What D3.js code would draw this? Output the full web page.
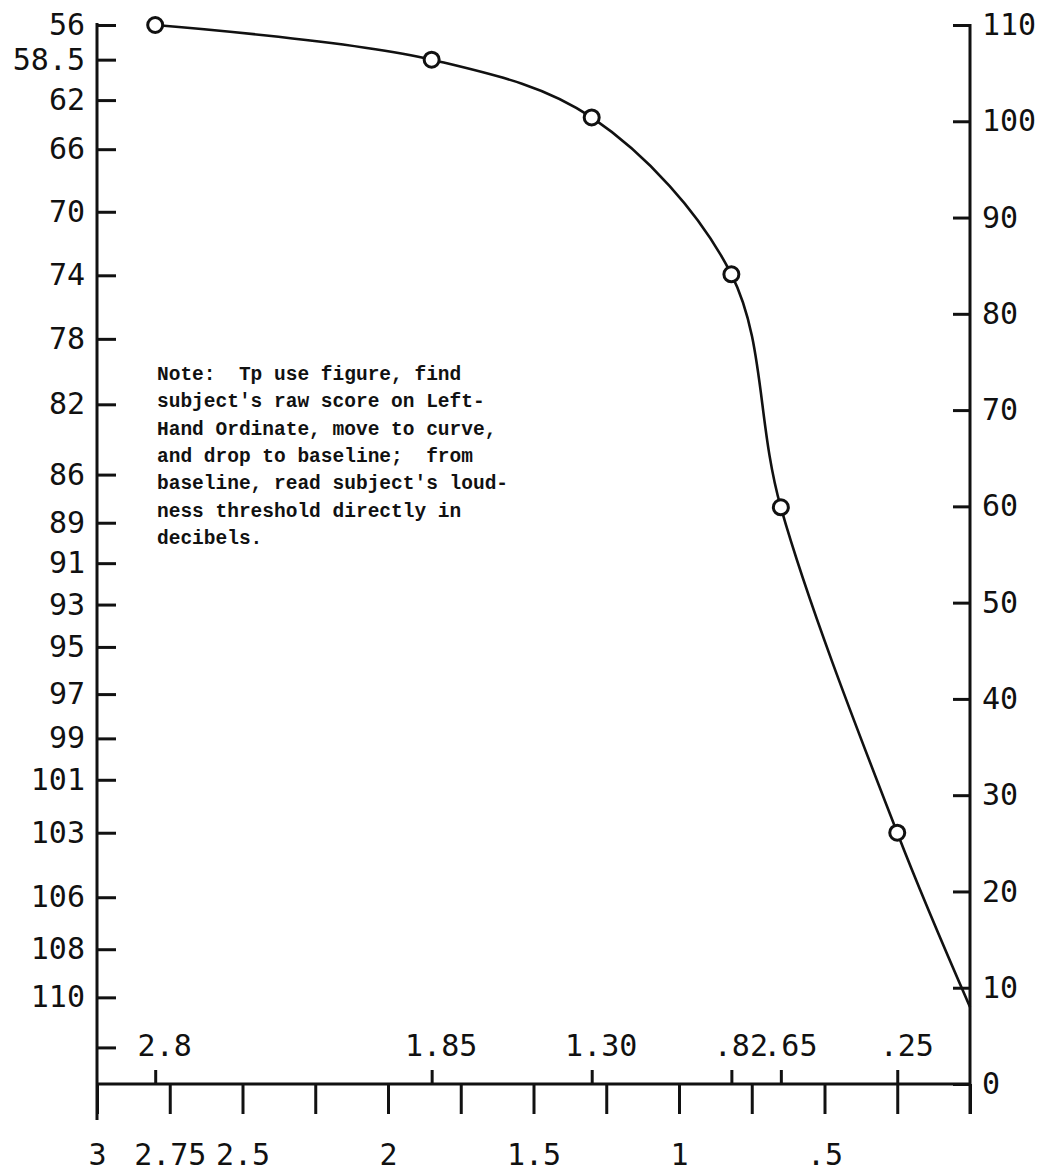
<!DOCTYPE html>
<html>
<head>
<meta charset="utf-8">
<script src="https://cdn.jsdelivr.net/npm/d3@7"></script>
<style>
  body { margin: 0; background: #fff; }
  svg text { fill: #111; }
  .num { font-family: "DejaVu Sans Mono", monospace; font-size: 30px; }
  .note { font-family: "Liberation Mono", monospace; font-size: 19.5px; font-weight: bold; white-space: pre; }
</style>
</head>
<body>
<svg width="1037" height="1173"></svg>
<script>
// bottom scale (baseline)
const bottomTicks = [3, 2.75, 2.5, 2.25, 2, 1.75, 1.5, 1.25, 1, 0.75, 0.5, 0.25, 0];
const bottomLabels = ["3", "2.75", "2.5", "", "2", "", "1.5", "", "1", "", ".5", "", ""];

// plotted points
const pointX = [2.8, 1.85, 1.30, 0.82, 0.65, 0.25];
const pointLabels = ["2.8", "1.85", "1.30", ".82", ".65", ".25"];
const pointDb = [110, 106.4, 100.4, 84.1, 59.9, 26.1];
const curveEndX = 0;
const curveEndDb = 8;

// right-hand ordinate (decibels)
const rightTicks = [0, 10, 20, 30, 40, 50, 60, 70, 80, 90, 100, 110];

// left-hand ordinate (raw score) and where each sits on the dB scale
const leftScores = [56, 58.5, 62, 66, 70, 74, 78, 82, 86, 89, 91, 93, 95, 97, 99, 101, 103, 106, 108, 110, 112];
const leftScoreDb = [110, 106.4, 102.2, 97.1, 90.6, 84.0, 77.4, 70.6, 63.3, 58.3, 54.1, 49.8, 45.4, 40.5, 35.9, 31.6, 26.1, 19.4, 14.0, 9.0, 3.8];
const leftLabels = ["56", "58.5", "62", "66", "70", "74", "78", "82", "86", "89", "91", "93", "95", "97", "99", "101", "103", "106", "108", "110", ""];

const noteLines = [
    "Note:  Tp use figure, find",
    "subject's raw score on Left-",
    "Hand Ordinate, move to curve,",
    "and drop to baseline;  from",
    "baseline, read subject's loud-",
    "ness threshold directly in",
    "decibels."
];

const xLeft = 97, xRight = 970, yBase = 1084, yTop = 25;

const svg = d3.select('svg');

const x = d3.scaleLinear()
    .domain([3, 0])
    .range([xLeft, xRight]);

const y = d3.scaleLinear()
    .domain([0, 110]) // dB
    .range([yBase, yTop]);

// piecewise scale: raw score -> px
const yLeft = d3.scaleLinear()
    .domain(leftScores)
    .range(leftScoreDb.map(d => y(d)));

function styleAxis(g) {
    g.select('.domain').remove();
    g.selectAll('line').attr('stroke', '#111').attr('stroke-width', 3);
    g.selectAll('text').attr('class', 'num').attr('fill', '#111');
}

// left axis
svg.append('g')
    .attr('transform', `translate(${xLeft},0)`)
    .call(d3.axisLeft(yLeft)
        .tickValues(leftScores)
        .tickFormat((d, i) => leftLabels[i])
        .tickSizeInner(-19)
        .tickSizeOuter(0)
        .tickPadding(12))
    .call(styleAxis);

// right axis
svg.append('g')
    .attr('transform', `translate(${xRight},0)`)
    .call(d3.axisRight(y)
        .tickValues(rightTicks)
        .tickSizeInner(-17)
        .tickSizeOuter(0)
        .tickPadding(12))
    .call(styleAxis);

// bottom axis
svg.append('g')
    .attr('transform', `translate(0,${yBase})`)
    .call(d3.axisBottom(x)
        .tickValues(bottomTicks)
        .tickFormat((d, i) => bottomLabels[i])
        .tickSizeInner(30)
        .tickSizeOuter(0)
        .tickPadding(30))
    .call(styleAxis);

// small marks above baseline for the plotted points
svg.append('g')
    .attr('transform', `translate(0,${yBase})`)
    .call(d3.axisTop(x)
        .tickValues(pointX)
        .tickFormat((d, i) => pointLabels[i])
        .tickSizeInner(14)
        .tickSizeOuter(0)
        .tickPadding(14))
    .call(styleAxis)
    .selectAll('text').attr('dx', 9);

// frame lines
svg.append('line')
    .attr('x1', xLeft).attr('x2', xLeft)
    .attr('y1', y(110) - 2).attr('y2', yBase + 36)
    .attr('stroke', '#111').attr('stroke-width', 3);
svg.append('line')
    .attr('x1', xRight).attr('x2', xRight)
    .attr('y1', y(110) - 1).attr('y2', yBase + 30)
    .attr('stroke', '#111').attr('stroke-width', 3);
svg.append('line')
    .attr('x1', xLeft).attr('x2', xRight)
    .attr('y1', yBase).attr('y2', yBase)
    .attr('stroke', '#111').attr('stroke-width', 3);

// curve
const curvePts = pointX.map((d, i) => [d, pointDb[i]]).concat([[curveEndX, curveEndDb]]);
const line = d3.line()
    .x(d => x(d[0]))
    .y(d => y(d[1]))
    .curve(d3.curveCatmullRom.alpha(0.5));

svg.append('path')
    .datum(curvePts)
    .attr('d', line)
    .attr('fill', 'none')
    .attr('stroke', '#111')
    .attr('stroke-width', 2.6);

svg.append('g')
    .selectAll('circle')
    .data(pointX)
    .enter().append('circle')
    .attr('cx', d => x(d))
    .attr('cy', (d, i) => y(pointDb[i]))
    .attr('r', 7.5)
    .attr('fill', '#fff')
    .attr('stroke', '#111')
    .attr('stroke-width', 3);

// note
svg.append('g')
    .selectAll('text')
    .data(noteLines)
    .enter().append('text')
    .attr('class', 'note')
    .attr('x', 157)
    .attr('y', (d, i) => 380 + i * 27.3)
    .text(d => d);
</script>
</body>
</html>
